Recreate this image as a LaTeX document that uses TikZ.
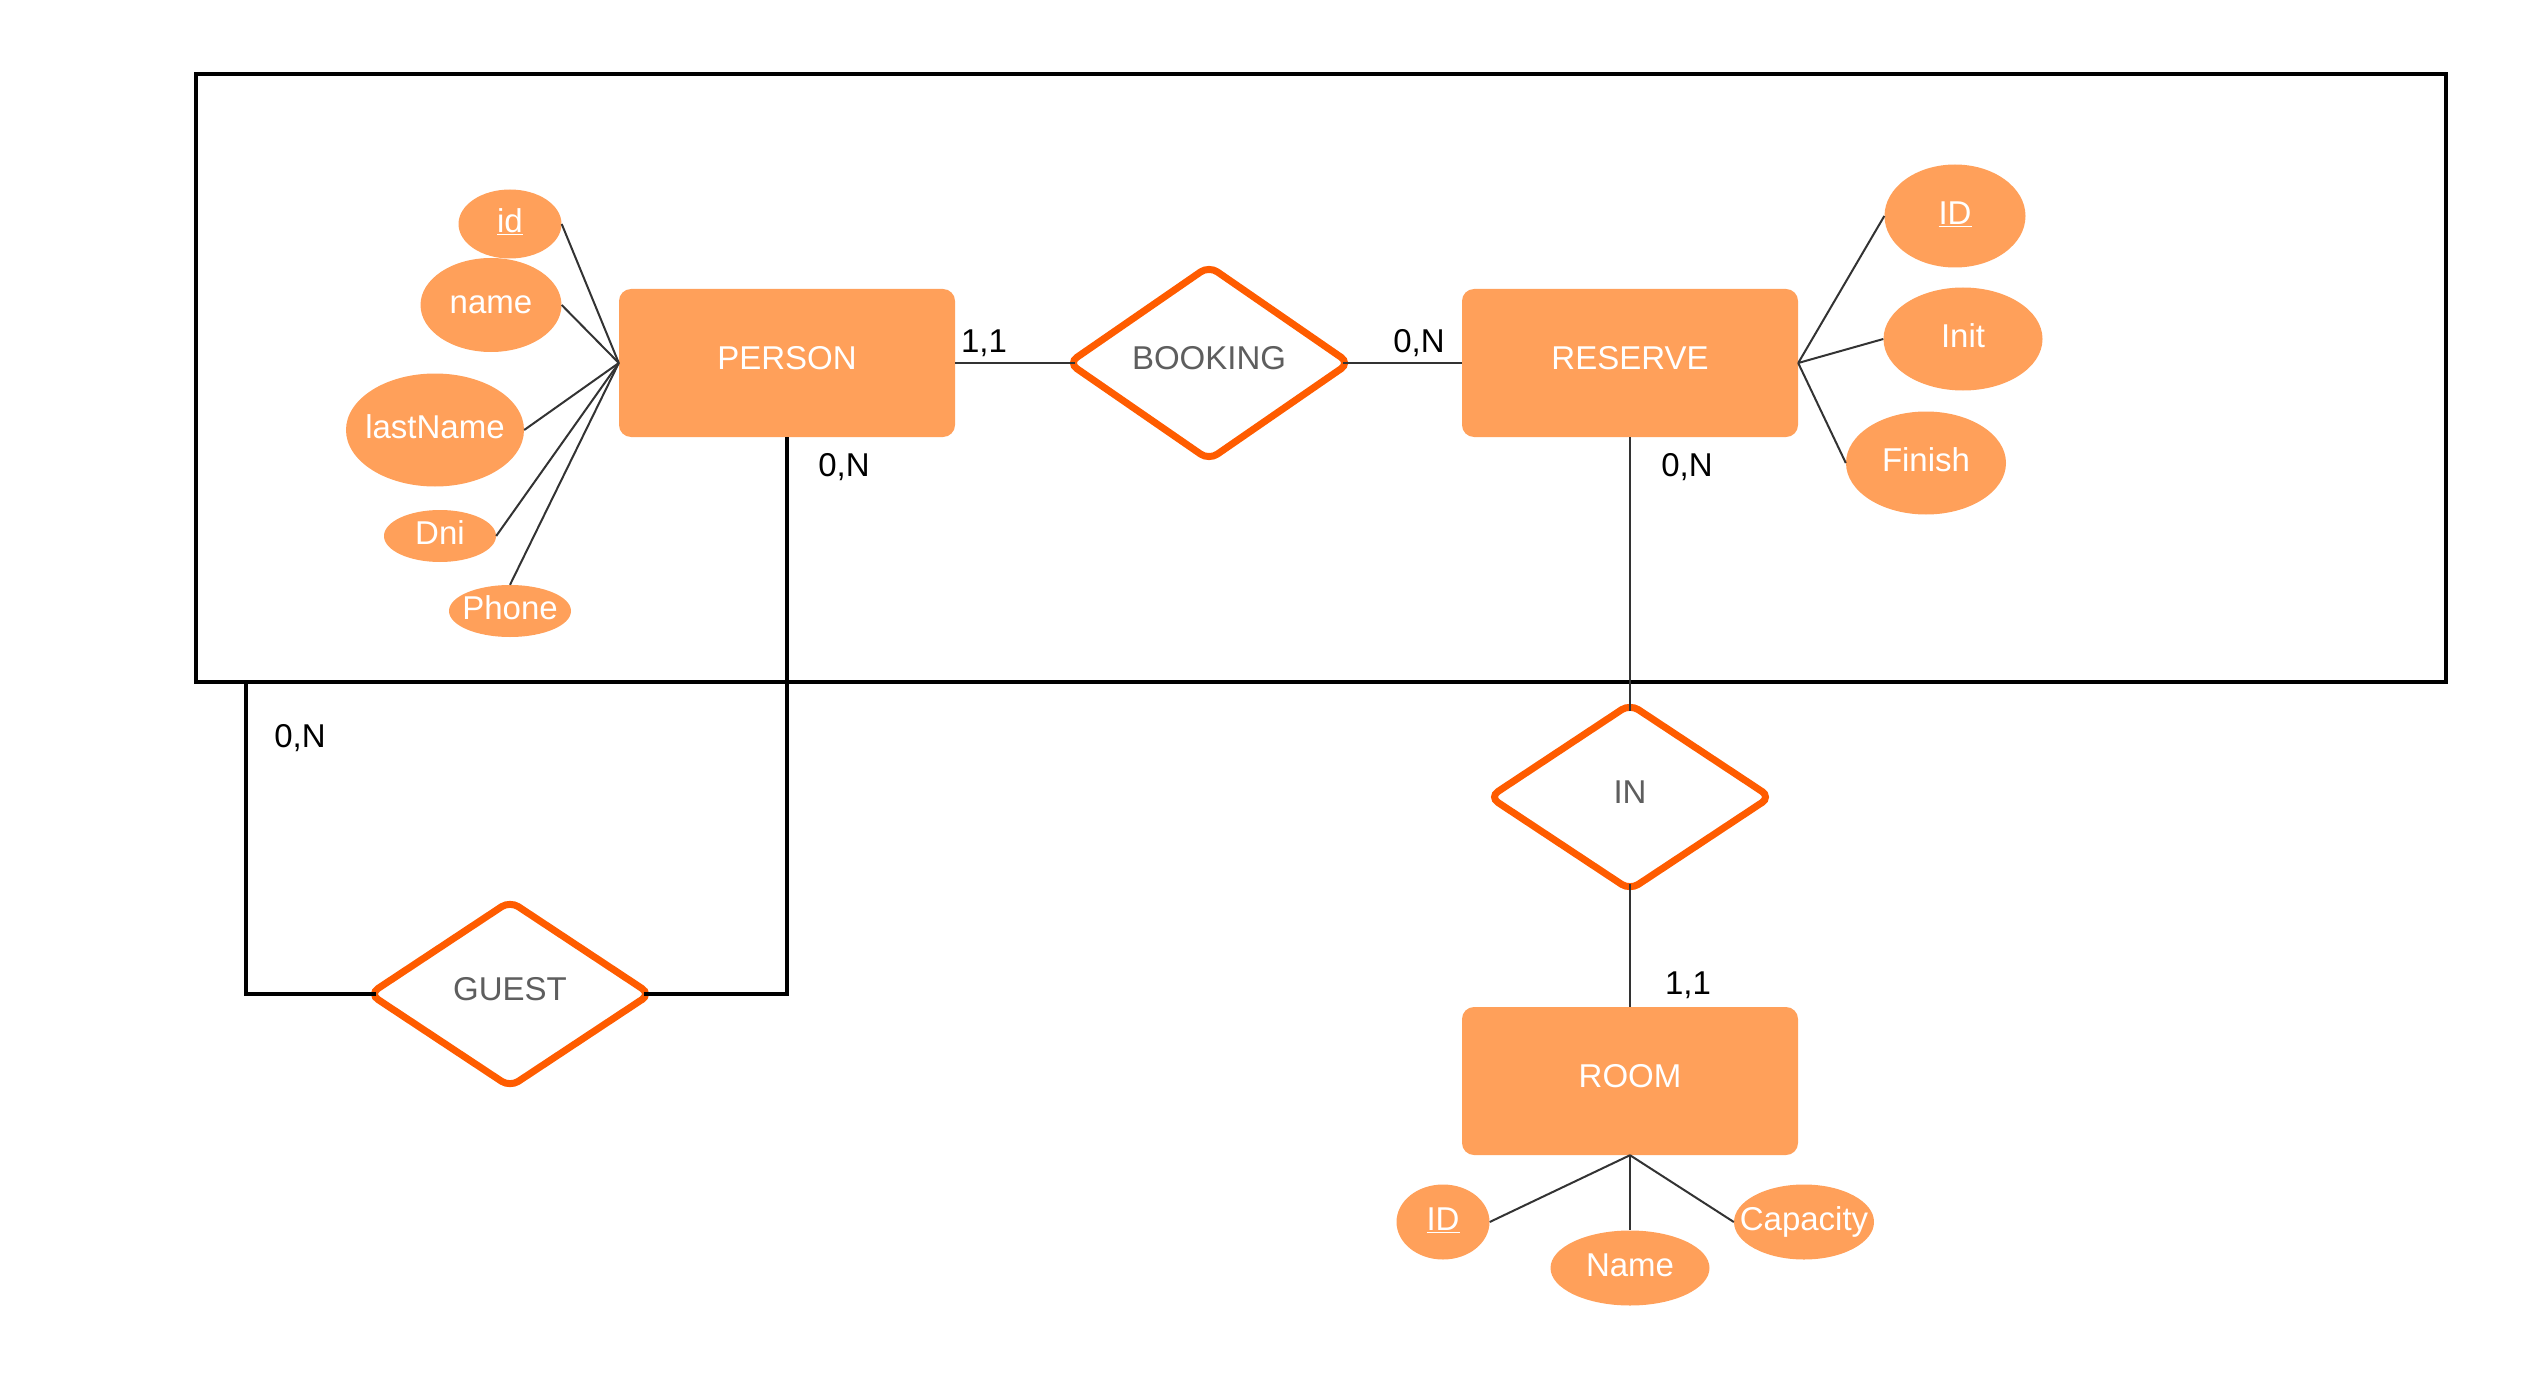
\documentclass[tikz,border=0pt]{standalone}
\usepackage{fontspec}
\setmainfont{Liberation Sans}
\usetikzlibrary{shapes.geometric}

\definecolor{entityorange}{HTML}{FFA05A}
\definecolor{relorange}{HTML}{FF5C00}
\definecolor{relgray}{HTML}{5E5E5E}

\newcommand{\attrname}[1]{\makebox[0pt]{#1}}

\begin{document}
\begin{tikzpicture}[x=1pt,y=-1pt,
                every node/.style={font=\fontsize{33}{40}\selectfont},
                entity node/.style={rectangle,rounded corners=12pt,fill=entityorange,text=white,
                    text height=24pt,text depth=12pt,minimum width=336pt,minimum height=148pt},
                attr node/.style={ellipse,fill=entityorange,text=white,inner sep=0pt,
                    text height=24pt,text depth=7pt},
                rel node/.style={diamond,draw=relorange,line width=7pt,rounded corners=10pt,
                    fill=white,text=relgray,inner sep=0pt,outer sep=-4.5pt,
                    text height=24pt,text depth=12pt,minimum width=277pt,minimum height=182pt},
                card node/.style={text=black,inner sep=0pt},
                agg box/.style={draw,line width=3.5pt,outer sep=0pt,minimum width=2250pt,minimum height=608pt},
                link/.style={line width=2pt,draw=black!80},
                thick link/.style={line width=4pt,draw=black},
                ]
                \useasboundingbox (0,0) rectangle (2522,1380);

                % aggregation box
                \node[agg box] (agg) at (1321,378) {};
                \coordinate (aggleft) at (246,682);

                % entities
                \node[entity node] (person) at (787,363) {PERSON};
                \node[entity node] (reserve) at (1630,363) {RESERVE};
                \node[entity node] (room) at (1630,1081) {ROOM};

                % relationships
                \node[rel node] (booking) at (1209,363) {BOOKING};
                \node[rel node] (in) at (1630,797) {IN};
                \node[rel node] (guest) at (510,994) {GUEST};

                % attributes of PERSON
                \node[attr node, minimum width=103pt, minimum height=69pt] (pid) at (510,224) {\attrname{\underline{id}}};
                \node[attr node, minimum width=141pt, minimum height=94pt] (pname) at (491,305) {\attrname{name}};
                \node[attr node, minimum width=178pt, minimum height=113pt] (plast) at (435,430) {\attrname{lastName}};
                \node[attr node, minimum width=112pt, minimum height=52pt] (pdni) at (440,536) {\attrname{Dni}};
                \node[attr node, minimum width=122pt, minimum height=52pt] (pphone) at (510,611) {\attrname{Phone}};

                % attributes of RESERVE
                \node[attr node, minimum width=141pt, minimum height=103pt] (rid) at (1955,216) {\attrname{\underline{ID}}};
                \node[attr node, minimum width=159pt, minimum height=103pt] (rinit) at (1963,339) {\attrname{Init}};
                \node[attr node, minimum width=160pt, minimum height=103pt] (rfinish) at (1926,463) {\attrname{Finish}};

                % attributes of ROOM
                \node[attr node, minimum width=93pt, minimum height=75pt] (oid) at (1443,1222) {\attrname{\underline{ID}}};
                \node[attr node, minimum width=159pt, minimum height=75pt] (oname) at (1630,1268) {\attrname{Name}};
                \node[attr node, minimum width=140pt, minimum height=75pt] (ocap) at (1804,1222) {\attrname{Capacity}};

                \draw[link] (person.west) -- (pid.east);
                \draw[link] (person.west) -- (pname.east);
                \draw[link] (person.west) -- (plast.east);
                \draw[link] (person.west) -- (pdni.east);
                \draw[link] (person.west) -- (pphone.north);
                \draw[link] (reserve.east) -- (rid.west);
                \draw[link] (reserve.east) -- (rinit.west);
                \draw[link] (reserve.east) -- (rfinish.west);
                \draw[link] (room.south) -- (oid.east);
                \draw[link] (room.south) -- (oname.north);
                \draw[link] (room.south) -- (ocap.west);

                \draw[link] (person.east) -- (booking.west);
                \draw[link] (booking.east) -- (reserve.west);
                \draw[link] (reserve.south) -- (in.north);
                \draw[link] (in.south) -- (room.north);
                \draw[thick link] (person.south) |- (guest.east);
                \draw[thick link] (aggleft) |- (guest.west);

                % cardinalities
                \node[card node] (c1) at (984,343) {1,1};
                \node[card node] (c2) at (1419,343) {0,N};
                \node[card node] (c3) at (844,467) {0,N};
                \node[card node] (c4) at (1687,467) {0,N};
                \node[card node] (c5) at (300,738) {0,N};
                \node[card node] (c6) at (1688,985) {1,1};
\end{tikzpicture}
\end{document}
